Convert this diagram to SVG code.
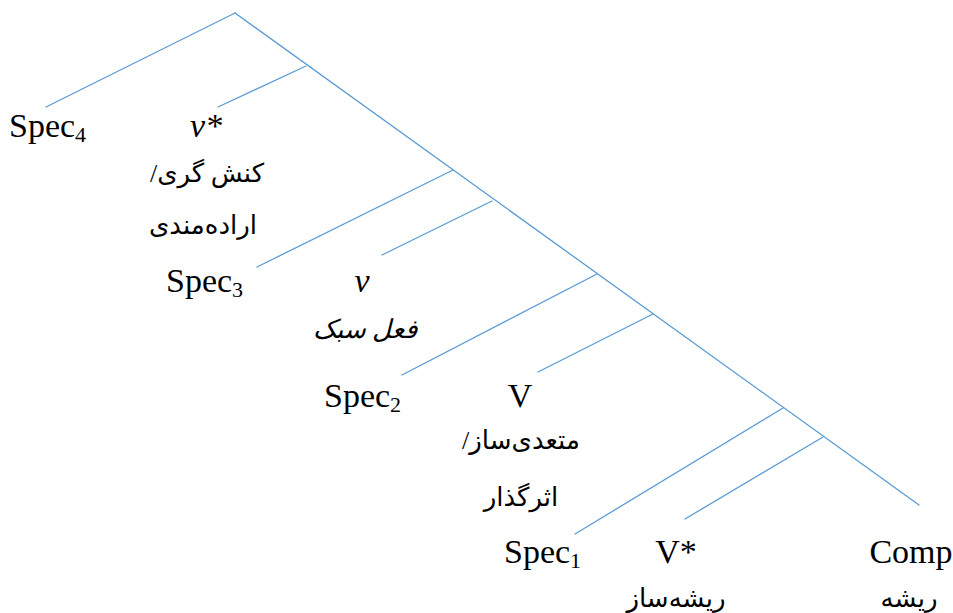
<svg xmlns="http://www.w3.org/2000/svg" width="953" height="613" viewBox="0 0 953 613">
<style>
.l{stroke:#5B9BD5;stroke-width:1.3;fill:none;stroke-linecap:round}
.t{font-family:"Liberation Serif","Times New Roman",serif;font-size:34px;fill:#000}
.s{font-size:22px}
.i{font-style:italic}
.fa{font-family:"Liberation Serif","DejaVu Sans",serif;font-size:26px;fill:#000;direction:rtl;unicode-bidi:embed}
</style>
<rect width="953" height="613" fill="#fff"/>
<g id="connectors">
<line class="l" x1="235" y1="13" x2="919" y2="505"/>
<line class="l" x1="235" y1="13" x2="46" y2="107"/>
<line class="l" x1="306" y1="66" x2="218" y2="107"/>
<line class="l" x1="453" y1="170" x2="257" y2="267"/>
<line class="l" x1="492" y1="201" x2="382" y2="255"/>
<line class="l" x1="597" y1="274" x2="402" y2="375"/>
<line class="l" x1="653" y1="314" x2="538" y2="372"/>
<line class="l" x1="783" y1="408" x2="575" y2="534"/>
<line class="l" x1="823" y1="437" x2="685" y2="519"/>
</g>
<g id="spec4"><text class="t" x="9" y="137">Spec<tspan class="s" dy="5">4</tspan></text></g>
<g id="vstar">
<text class="t i" x="206" y="137" text-anchor="middle">v*</text>
<text class="fa" x="207" y="182" text-anchor="middle">کنش گری/</text>
<text class="fa" x="203" y="234" text-anchor="middle">اراده‌مندی</text>
</g>
<g id="spec3"><text class="t" x="166" y="292">Spec<tspan class="s" dy="5">3</tspan></text></g>
<g id="v">
<text class="t i" x="362" y="292" text-anchor="middle">v</text>
<text class="fa i" x="365" y="338" text-anchor="middle">فعل سبک</text>
</g>
<g id="spec2"><text class="t" x="324" y="407">Spec<tspan class="s" dy="5">2</tspan></text></g>
<g id="V">
<text class="t" x="520" y="407" text-anchor="middle">V</text>
<text class="fa" x="521" y="449" text-anchor="middle">متعدی‌ساز/</text>
<text class="fa" x="521" y="506" text-anchor="middle">اثرگذار</text>
</g>
<g id="spec1"><text class="t" x="504" y="563">Spec<tspan class="s" dy="5">1</tspan></text></g>
<g id="Vstar">
<text class="t" x="676" y="563" text-anchor="middle">V*</text>
<text class="fa" x="676" y="607" text-anchor="middle">ریشه‌ساز</text>
</g>
<g id="comp">
<text class="t" x="911" y="563" text-anchor="middle">Comp</text>
<text class="fa" x="909" y="607" text-anchor="middle">ریشه</text>
</g>
</svg>
